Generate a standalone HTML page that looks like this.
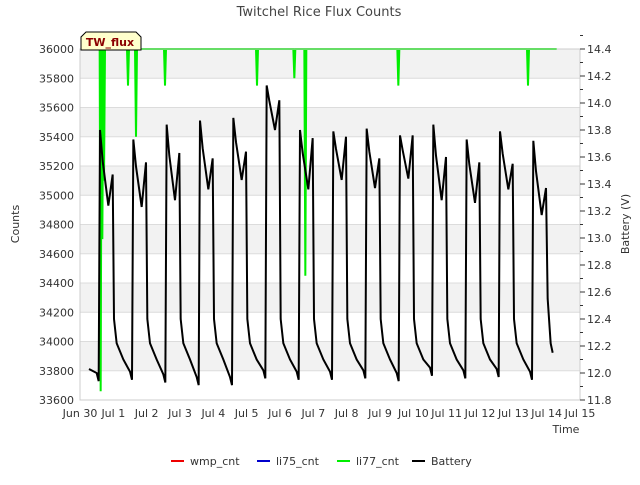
<!DOCTYPE html>
<html><head><meta charset="utf-8"><style>
body{margin:0;background:#fff;font-family:"Liberation Sans","DejaVu Sans",sans-serif}
svg text{font-family:"DejaVu Sans","Liberation Sans",sans-serif}
</style></head><body>
<svg id="chart" width="640" height="480" xmlns="http://www.w3.org/2000/svg">
<rect width="640" height="480" fill="#fff"/>
<text x="319" y="16" font-size="13" fill="#444" text-anchor="middle">Twitchel Rice Flux Counts</text>
<g id="grid"></g><g id="series"></g><g id="axes"></g>
<text x="19" y="224" font-size="11" fill="#333" text-anchor="middle" transform="rotate(-90 19 224)">Counts</text>
<text x="629" y="224" font-size="11" fill="#333" text-anchor="middle" transform="rotate(-90 629 224)">Battery (V)</text>
<text x="566" y="433" font-size="11" fill="#333" text-anchor="middle">Time</text>
<g>
<g><line x1="171" y1="461" x2="184" y2="461" stroke="#e00" stroke-width="2"/><text x="190" y="465" font-size="11" fill="#333">wmp_cnt</text></g>
<g><line x1="257" y1="461" x2="270" y2="461" stroke="#00c" stroke-width="2"/><text x="276" y="465" font-size="11" fill="#333">li75_cnt</text></g>
<g><line x1="337" y1="461" x2="350" y2="461" stroke="#0e0" stroke-width="2"/><text x="356" y="465" font-size="11" fill="#333">li77_cnt</text></g>
<g><line x1="412" y1="461" x2="425" y2="461" stroke="#000" stroke-width="2"/><text x="431" y="465" font-size="11" fill="#333">Battery</text></g>
</g>
<g><path d="M81,50 L81,37 L86,32 L136,32 L141,37 L141,50 Z" fill="#ffffcc" stroke="#000" stroke-width="1"/><text x="110" y="46" font-size="11" font-weight="bold" fill="#8b0000" text-anchor="middle">TW_flux</text></g>
</svg>
<script>
const countTicks=[33600,33800,34000,34200,34400,34600,34800,35000,35200,35400,35600,35800,36000];
const voltTicks=[11.8,12.0,12.2,12.4,12.6,12.8,13.0,13.2,13.4,13.6,13.8,14.0,14.2,14.4];
const dayLabels=["Jun 30","Jul 1","Jul 2","Jul 3","Jul 4","Jul 5","Jul 6","Jul 7","Jul 8","Jul 9","Jul 10","Jul 11","Jul 12","Jul 13","Jul 14","Jul 15"];
const batMin=[11.94,11.95,11.93,11.91,11.91,11.96,11.95,11.95,11.96,11.94,11.98,11.96,11.97,11.95];
const batPeak=[13.80,13.73,13.84,13.87,13.89,14.13,13.80,13.79,13.81,13.76,13.84,13.73,13.79,13.72];
const batDip=[13.24,13.23,13.28,13.36,13.43,13.80,13.36,13.43,13.37,13.44,13.28,13.26,13.36,13.17];
const batPeak2=[13.47,13.56,13.63,13.59,13.64,14.02,13.74,13.75,13.59,13.76,13.60,13.56,13.55,13.37];
const li77SpikeDay=[0.62,0.67,0.72,1.44,1.68,2.55,5.31,6.43,6.76,9.55,13.44];
const li77SpikeVal=[33660,34700,35100,35750,35400,35750,35750,35800,34450,35750,35750];
const L=80,R=580,T=49,B=400;
const xs=d=>L+d*(R-L)/15;
const yc=v=>B-(v-33600)/2400*(B-T);
const yv=v=>B-(v-11.8)/2.6*(B-T);
const NS="http://www.w3.org/2000/svg";
function mk(tag,attrs,parent){const e=document.createElementNS(NS,tag);for(const k in attrs)e.setAttribute(k,attrs[k]);document.getElementById(parent).appendChild(e);return e;}
for(let i=0;i<countTicks.length-1;i++){
 if(i%2===1){const r=mk('rect',{x:L,y:yc(countTicks[i+1]),width:R-L,height:yc(countTicks[i])-yc(countTicks[i+1]),fill:'#f2f2f2'},'grid');
 
 }
}
countTicks.forEach(v=>{const l=mk('line',{x1:L,x2:R,y1:yc(v),y2:yc(v),stroke:'#dcdcdc','stroke-width':1},'grid');
 
 });
mk('rect',{x:L,y:T,width:R-L,height:B-T,fill:'none',stroke:'#ccc'},'axes');
countTicks.forEach(v=>{const t=mk('text',{x:L-6,y:yc(v)+4,'font-size':11,fill:'#333','text-anchor':'end'},'axes');t.textContent=v;
 
 });
voltTicks.forEach(v=>{const y=yv(v);mk('line',{x1:R,x2:R+5,y1:y,y2:y,stroke:'#333'},'axes');
 mk('line',{x1:R,x2:R+3,y1:yv(v+0.1),y2:yv(v+0.1),stroke:'#333'},'axes');
 const t=mk('text',{x:R+7,y:y+4,'font-size':11,fill:'#333'},'axes');t.textContent=v.toFixed(1);
 
 });
dayLabels.forEach((s,i)=>{const t=mk('text',{x:xs(i),y:417,'font-size':11,fill:'#333','text-anchor':'middle'},'axes');t.textContent=s;
 
 });
let p=`M${xs(0.6)},${yc(36000)}`;
li77SpikeDay.forEach((d,i)=>{p+=` L${xs(d-0.03)},${yc(36000)} L${xs(d)},${yc(li77SpikeVal[i])} L${xs(d+0.03)},${yc(36000)}`;});
p+=` L${xs(14.3)},${yc(36000)}`;
const g=mk('path',{d:p,fill:'none',stroke:'#00ee00','stroke-width':2},'series');


let pts=[[0.27,12.03]];
for(let i=0;i<batPeak.length;i++){
 pts.push([i+0.5,batMin[i]+0.06]);pts.push([i+0.56,batMin[i]]);
 pts.push([i+0.6,batPeak[i]]);pts.push([i+0.68,(batPeak[i]+batDip[i])/2+0.05]);
 pts.push([i+0.85,batDip[i]]);pts.push([i+0.98,batPeak2[i]]);
 if(i<batPeak.length-1){pts.push([i+1.02,12.4]);pts.push([i+1.1,12.22]);pts.push([i+1.3,12.1]);}
 else{pts.push([i+1.03,12.55]);pts.push([i+1.12,12.22]);pts.push([i+1.18,12.15]);}
}
let bp='M'+pts.map(q=>xs(q[0])+','+yv(q[1])).join(' L');
const b=mk('path',{d:bp,fill:'none',stroke:'#000','stroke-width':2},'series');


</script>
</body></html>
